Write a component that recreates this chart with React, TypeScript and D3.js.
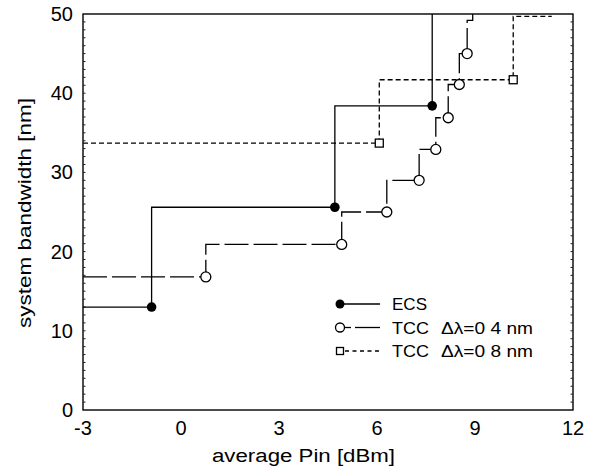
import React from "react";
import * as d3 from "d3";

const xTicks = [-3, 0, 3, 6, 9, 12];
const yTicks = [0, 10, 20, 30, 40, 50];

// ECS (solid, filled circles)
const ecsX = [-0.9, 4.71, 7.69];
const ecsY = [13.0, 25.6, 38.4];

// TCC Δλ=0.4 nm (long dash, open circles)
const tcc4X = [0.76, 4.92, 6.3, 7.29, 7.8, 8.18, 8.52, 8.76];
const tcc4Y = [16.8, 20.9, 25.0, 29.0, 32.9, 36.9, 41.1, 45.0];
const tcc4TailX = [8.93, 8.93];
const tcc4TailY = [49.2, 50];

// TCC Δλ=0.8 nm (short dash, open squares)
const tcc8X = [6.07, 10.17];
const tcc8Y = [33.7, 41.7];
const tcc8TailX = [11.35];
const tcc8TailY = [49.7];

const legendLabels = ["ECS", "TCC", "TCC"];
const legendSub = ["", "Δλ=0 4 nm", "Δλ=0 8 nm"];

const W = 595;
const H = 473;
const L = 83, R = 573, T = 14, B = 410;
const FONT = "'Liberation Sans', Arial, Helvetica, sans-serif";

export default function App() {
  const x = d3.scaleLinear().domain([-3, 12]).range([L, R]);
  const y = d3.scaleLinear().domain([0, 50]).range([B, T]);
  const line = d3
    .line<[number, number]>()
    .x((d) => x(d[0]))
    .y((d) => y(d[1]))
    .curve(d3.curveStepBefore);

  const ecsPts: [number, number][] = [
    [-3, ecsY[0]],
    ...ecsX.map((v, i) => [v, ecsY[i]] as [number, number]),
    [ecsX[ecsX.length - 1], 50],
  ];
  const tcc4Pts: [number, number][] = [
    [-3, tcc4Y[0]],
    ...tcc4X.map((v, i) => [v, tcc4Y[i]] as [number, number]),
    ...tcc4TailX.map((v, i) => [v, tcc4TailY[i]] as [number, number]),
  ];
  const tcc8Pts: [number, number][] = [
    [-3, tcc8Y[0]],
    ...tcc8X.map((v, i) => [v, tcc8Y[i]] as [number, number]),
    ...tcc8TailX.map((v, i) => [v, tcc8TailY[i]] as [number, number]),
  ];

  const minorY = d3.range(1, 50);

  const legY = [304, 327.5, 351];
  const legMX = 340;

  return (
    <svg
      width={W}
      height={H}
      style={{ position: "absolute", left: 0, top: 0, background: "#fff" }}
      fontFamily={FONT}
    >
      <rect x={0} y={0} width={W} height={H} fill="#fff" />
      {/* frame */}
      <rect x={L} y={T} width={R - L} height={B - T} fill="none" stroke="#000" strokeWidth={1.4} />
      {/* minor ticks */}
      {minorY.map((v) => (
        <g key={v}>
          <line x1={L} x2={L + 2.5} y1={y(v)} y2={y(v)} stroke="#222" strokeWidth={1} />
          <line x1={R} x2={R - 2.5} y1={y(v)} y2={y(v)} stroke="#222" strokeWidth={1} />
        </g>
      ))}
      {/* tick labels */}
      {xTicks.map((t) => (
        <text key={t} x={x(t)} y={435} fontSize={20} textAnchor="middle" fill="#000">
          {t}
        </text>
      ))}
      {yTicks.map((t) => (
        <text key={t} x={73} y={y(t) + 7} fontSize={20} textAnchor="end" fill="#000">
          {t}
        </text>
      ))}
      {/* axis titles */}
      <text x={303.5} y={462} fontSize={18} textAnchor="middle" fill="#000" textLength={183} lengthAdjust="spacingAndGlyphs">
        average Pin [dBm]
      </text>
      <text
        transform={`translate(31,213) rotate(-90)`}
        fontSize={19}
        textAnchor="middle"
        fill="#000"
        textLength={230}
        lengthAdjust="spacingAndGlyphs"
      >
        system bandwidth [nm]
      </text>

      {/* series lines */}
      <path d={line(ecsPts) || ""} fill="none" stroke="#000" strokeWidth={1.3} />
      <path d={line(tcc4Pts) || ""} fill="none" stroke="#000" strokeWidth={1.3} strokeDasharray="24,5" />
      <path d={line(tcc8Pts) || ""} fill="none" stroke="#000" strokeWidth={1.3} strokeDasharray="5,3" />

      {/* markers */}
      {ecsX.map((v, i) => (
        <circle key={"e" + i} cx={x(v)} cy={y(ecsY[i])} r={4.8} fill="#000" />
      ))}
      {tcc4X.map((v, i) => (
        <circle key={"c" + i} cx={x(v)} cy={y(tcc4Y[i])} r={5} fill="#fff" stroke="#000" strokeWidth={1.3} />
      ))}
      {tcc8X.map((v, i) => (
        <rect key={"s" + i} x={x(v) - 4} y={y(tcc8Y[i]) - 4} width={8} height={8} fill="#fff" stroke="#000" strokeWidth={1.3} />
      ))}

      {/* legend */}
      <line x1={legMX} x2={380} y1={legY[0]} y2={legY[0]} stroke="#000" strokeWidth={1.3} />
      <circle cx={legMX} cy={legY[0]} r={4.5} fill="#000" />
      <line x1={345} x2={351} y1={legY[1]} y2={legY[1]} stroke="#000" strokeWidth={1.3} />
      <line x1={355} x2={380} y1={legY[1]} y2={legY[1]} stroke="#000" strokeWidth={1.3} />
      <circle cx={legMX} cy={legY[1]} r={4.5} fill="#fff" stroke="#000" strokeWidth={1.3} />
      <line x1={345} x2={380} y1={legY[2]} y2={legY[2]} stroke="#000" strokeWidth={1.3} strokeDasharray="4,3.5" />
      <rect x={legMX - 3.5} y={legY[2] - 3.5} width={7} height={7} fill="#fff" stroke="#000" strokeWidth={1.3} />
      {legendLabels.map((lab, i) => (
        <g key={"l" + i}>
          <text x={392} y={legY[i] + 6} fontSize={17} fill="#000" textLength={lab === "ECS" ? 35 : 37} lengthAdjust="spacingAndGlyphs">
            {lab}
          </text>
          {legendSub[i] && (
            <text x={441} y={legY[i] + 6} fontSize={17} fill="#000" textLength={92} lengthAdjust="spacingAndGlyphs">
              {legendSub[i]}
            </text>
          )}
        </g>
      ))}
    </svg>
  );
}
